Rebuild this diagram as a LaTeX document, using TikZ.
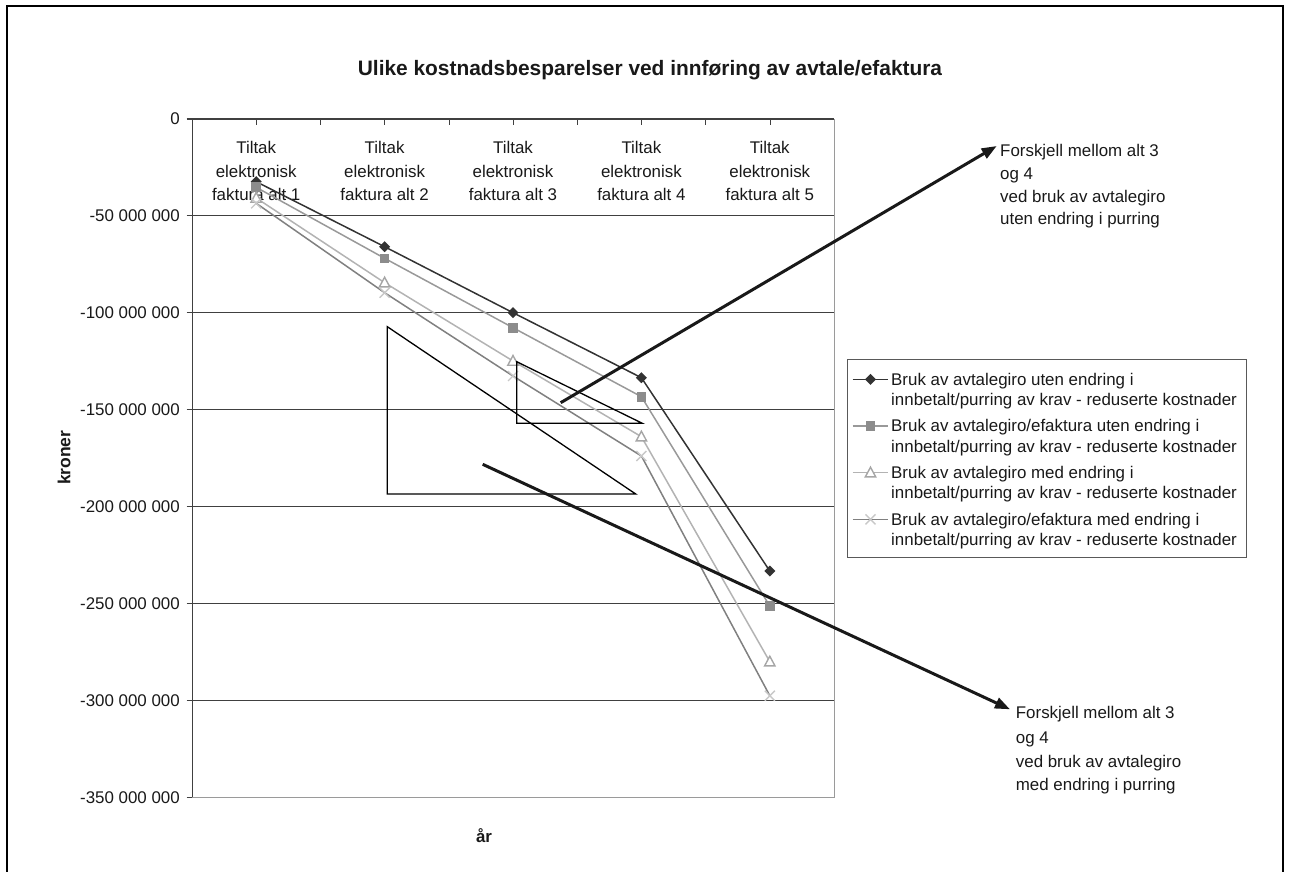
\documentclass[tikz,border=0pt]{standalone}
\usepackage{fontspec}
\setmainfont{Liberation Sans}
\usetikzlibrary{arrows.meta}
\definecolor{sA}{HTML}{333333}
\definecolor{sBline}{HTML}{999999}
\definecolor{sBmark}{HTML}{8C8C8C}
\definecolor{sCline}{HTML}{B3B3B3}
\definecolor{sCmark}{HTML}{A6A6A6}
\definecolor{sDline}{HTML}{808080}
\definecolor{sDmark}{HTML}{C8C8C8}
\definecolor{gridc}{HTML}{404040}
\definecolor{framec}{HTML}{9A9A9A}
\begin{document}
\begin{tikzpicture}[x=1pt,y=-1pt,
  font=\fontsize{16.9}{23}\selectfont,
  lbl/.style={anchor=base,inner sep=0pt,text=black!90},
  ylbl/.style={anchor=east,inner sep=0pt,text=black!90},
  legtxt/.style={anchor=base west,inner sep=0pt,text=black!90},
  anntxt/.style={anchor=base west,inner sep=0pt,text=black!90},
  gridline/.style={draw=gridc,line width=1.1pt},
  lineA/.style={draw=sA,line width=1.5pt},
  lineB/.style={draw=sBline,line width=1.5pt},
  lineC/.style={draw=sCline,line width=1.5pt},
  lineD/.style={draw=sDline,line width=1.5pt},
  diam/.pic={\fill[sA] (0,-5.5)--(5.5,0)--(0,5.5)--(-5.5,0)--cycle;},
  sqr/.pic={\fill[sBmark] (-4.8,-4.8) rectangle (4.8,4.8);},
  tri/.pic={\draw[sCmark,fill=white,line width=1.4pt] (0,-5.5)--(5.2,4.2)--(-5.2,4.2)--cycle;},
  crs/.pic={\draw[sDmark,line width=1.4pt] (-5,-5)--(5,5) (-5,5)--(5,-5);},
  annshape/.style={draw=black,line width=1.3pt},
  annarrow/.style={draw=black!90,line width=3pt,-{Triangle[length=15pt,width=11pt]}}
]
\useasboundingbox (0,0) rectangle (1291,872);
% outer frame
\draw[line width=2.5pt,black] (7,872) -- (7,6) -- (1283,6) -- (1283,872);

% title
\node[font=\bfseries\fontsize{20.9}{24}\selectfont,text=black!90] (title) at (650,70) {Ulike kostnadsbesparelser ved innføring av avtale/efaktura};

% gridlines
\foreach \yy in {215.9,312.8,409.7,506.6,603.5,700.4}
  \draw[gridline] (192.3,\yy) -- (834.3,\yy);
% plot frame
\draw[framec,line width=1.5pt] (192.3,797.3) -- (834.3,797.3) -- (834.3,119);
\draw[gridc,line width=1.3pt] (192.3,797.3) -- (192.3,119) -- (834.3,119);
% y ticks
\foreach \yy in {119,215.9,312.8,409.7,506.6,603.5,700.4,797.3}
  \draw[gridc,line width=1.1pt] (186.5,\yy) -- (192.3,\yy);
% x ticks
\foreach \k in {1,...,9}
  \draw[gridc,line width=1.1pt] (192.3+64.2*\k,119) -- (192.3+64.2*\k,125);

% y labels
\node[ylbl] (y0) at (180,119) {0};
\node[ylbl] (y1) at (180,215.9) {-50 000 000};
\node[ylbl] (y2) at (180,312.8) {-100 000 000};
\node[ylbl] (y3) at (180,409.7) {-150 000 000};
\node[ylbl] (y4) at (180,506.6) {-200 000 000};
\node[ylbl] (y5) at (180,603.5) {-250 000 000};
\node[ylbl] (y6) at (180,700.4) {-300 000 000};
\node[ylbl] (y7) at (180,797.3) {-350 000 000};

% axis titles
\node[rotate=90,font=\bfseries\fontsize{17.5}{20}\selectfont,text=black!90] (ytitle) at (64,457.7) {kroner};
\node[font=\bfseries\fontsize{16.9}{20}\selectfont,text=black!90] (xtitle) at (484,836) {år};

% category labels
\foreach \i/\xx in {1/256.2,2/384.6,3/513,4/641.4,5/769.8} {
  \node[lbl] (c\i a) at (\xx,154) {Tiltak};
  \node[lbl] (c\i b) at (\xx,177.3) {elektronisk};
  \node[lbl] (c\i c) at (\xx,200.6) {faktura alt \i};
}

% series A
\draw[lineA] (256.2,181.7) -- (384.6,246.7) -- (513,312.7) -- (641.4,377.7) -- (769.8,571);
\foreach \xx/\yy in {256.2/181.7,384.6/246.7,513/312.7,641.4/377.7,769.8/571}
  \pic at (\xx,\yy) {diam};
% series B
\draw[lineB] (256.2,187.3) -- (384.6,258.3) -- (513,327.7) -- (641.4,396.7) -- (769.8,606);
\foreach \xx/\yy in {256.2/187.3,384.6/258.3,513/327.7,641.4/396.7,769.8/606}
  \pic at (\xx,\yy) {sqr};
% series C
\draw[lineC] (256.2,198) -- (384.6,282.7) -- (513,361) -- (641.4,436.7) -- (769.8,661.7);
\foreach \xx/\yy in {256.2/198,384.6/282.7,513/361,641.4/436.7,769.8/661.7}
  \pic at (\xx,\yy) {tri};
% series D
\draw[lineD] (256.2,203.3) -- (384.6,292.7) -- (513,376) -- (641.4,456) -- (769.8,695.7);
\foreach \xx/\yy in {256.2/203.3,384.6/292.7,513/376,641.4/456,769.8/695.7}
  \pic at (\xx,\yy) {crs};

% legend
\draw[black!65,line width=1pt] (847.3,359) rectangle (1246.7,557.3);
\draw[lineA] (852.7,379.3) -- (888.3,379.3);
\pic at (870.5,379.3) {diam};
\draw[lineB] (852.7,426) -- (888.3,426);
\pic at (870.5,426) {sqr};
\draw[lineC] (852.7,472.7) -- (888.3,472.7);
\pic at (870.5,472.7) {tri};
\draw[lineD] (852.7,519.3) -- (888.3,519.3);
\pic at (870.5,519.3) {crs};
\node[legtxt] (l1a) at (891,385) {Bruk av avtalegiro uten endring i};
\node[legtxt] (l1b) at (891,405.7) {innbetalt/purring av krav - reduserte kostnader};
\node[legtxt] (l2a) at (891,431.7) {Bruk av avtalegiro/efaktura uten endring i};
\node[legtxt] (l2b) at (891,452.4) {innbetalt/purring av krav - reduserte kostnader};
\node[legtxt] (l3a) at (891,478.4) {Bruk av avtalegiro med endring i};
\node[legtxt] (l3b) at (891,498.4) {innbetalt/purring av krav - reduserte kostnader};
\node[legtxt] (l4a) at (891,525) {Bruk av avtalegiro/efaktura med endring i};
\node[legtxt] (l4b) at (891,545) {innbetalt/purring av krav - reduserte kostnader};

% annotation shapes
\draw[annshape] (387.3,326.7) -- (387.3,494) -- (635.7,494) -- cycle;
\draw[annshape] (516.7,361.7) -- (516.7,423.3) -- (642.3,423.3) -- cycle;

% annotation texts
\node[anntxt] (n1a) at (1000,156.2) {Forskjell mellom alt 3};
\node[anntxt] (n1b) at (1000,179.5) {og 4};
\node[anntxt] (n1c) at (1000,202.2) {ved bruk av avtalegiro};
\node[anntxt] (n1d) at (1000,224.8) {uten endring i purring};
\node[anntxt] (n2a) at (1015.7,718.8) {Forskjell mellom alt 3};
\node[anntxt] (n2b) at (1015.7,743.8) {og 4};
\node[anntxt] (n2c) at (1015.7,767.2) {ved bruk av avtalegiro};
\node[anntxt] (n2d) at (1015.7,790.5) {med endring i purring};

% arrows
\coordinate (a1s) at (560.7,402.7);
\coordinate (a1e) at (996.7,146);
\coordinate (a2s) at (482.7,464.3);
\coordinate (a2e) at (1010,709.3);
\draw[annarrow] (a1s) -- (a1e);
\draw[annarrow] (a2s) -- (a2e);
\end{tikzpicture}
\end{document}
